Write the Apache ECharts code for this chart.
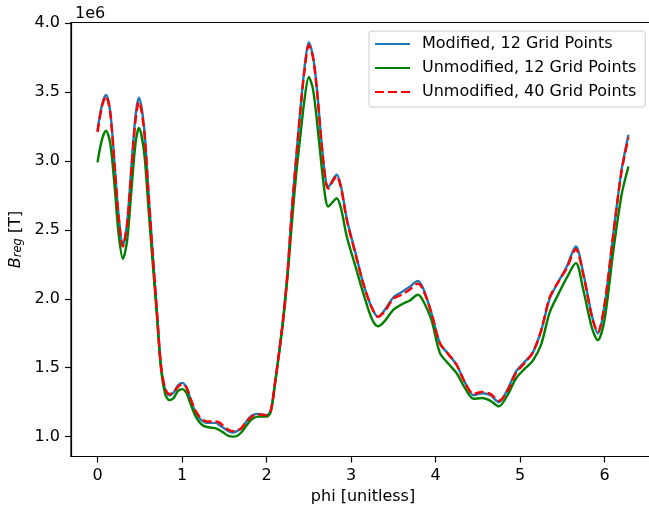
<!DOCTYPE html>
<html>
<head>
<meta charset="utf-8">
<script src="https://cdn.jsdelivr.net/npm/echarts@6/dist/echarts.min.js"></script>
<style>
  html, body { margin: 0; padding: 0; background: #fff; }
  #chart { width: 649px; height: 509px; }
</style>
</head>
<body>
<div id="chart"></div>
<script>
// phi sample points and B_reg values (in units of 1e6 T)
const phi = [
  0.00, 0.05, 0.10, 0.15, 0.20, 0.25, 0.30, 0.35, 0.40, 0.45, 0.49, 0.55,
  0.60, 0.65, 0.70, 0.75, 0.80, 0.85, 0.90, 0.95, 1.00, 1.05, 1.10, 1.15,
  1.20, 1.25, 1.30, 1.35, 1.40, 1.45, 1.50, 1.55, 1.60, 1.65, 1.70, 1.75,
  1.80, 1.85, 1.90, 1.95, 2.00, 2.05, 2.10, 2.15, 2.20, 2.25, 2.30, 2.35,
  2.40, 2.45, 2.50, 2.55, 2.60, 2.65, 2.70, 2.73, 2.78, 2.83, 2.88, 2.95,
  3.05, 3.15, 3.25, 3.32, 3.40, 3.50, 3.60, 3.70, 3.79, 3.85, 3.95, 4.05,
  4.15, 4.25, 4.35, 4.45, 4.55, 4.65, 4.75, 4.85, 4.95, 5.05, 5.15, 5.25,
  5.35, 5.45, 5.55, 5.66, 5.75, 5.85, 5.92, 6.00, 6.10, 6.20, 6.283
];
const modified12 = [
  3.22, 3.40, 3.48, 3.36, 2.99, 2.60, 2.39, 2.55, 2.95, 3.33, 3.46, 3.25,
  2.80, 2.35, 1.93, 1.52, 1.34, 1.30, 1.32, 1.37, 1.39, 1.36, 1.27, 1.19,
  1.14, 1.11, 1.10, 1.10, 1.10, 1.08, 1.06, 1.04, 1.03, 1.04, 1.06, 1.10,
  1.14, 1.16, 1.165, 1.16, 1.155, 1.19, 1.39, 1.62, 1.88, 2.21, 2.65, 3.02,
  3.37, 3.68, 3.86, 3.76, 3.50, 3.14, 2.86, 2.81, 2.86, 2.90, 2.82, 2.58,
  2.34, 2.10, 1.93, 1.87, 1.92, 2.01, 2.05, 2.09, 2.13, 2.08, 1.90, 1.68,
  1.60, 1.52, 1.39, 1.30, 1.315, 1.30, 1.25, 1.34, 1.47, 1.54, 1.61, 1.77,
  2.00, 2.12, 2.23, 2.38, 2.18, 1.88, 1.75, 1.95, 2.45, 2.93, 3.19
];
const unmodified12 = [
  2.99, 3.15, 3.22, 3.13, 2.83, 2.47, 2.29, 2.42, 2.78, 3.13, 3.24, 3.07,
  2.68, 2.28, 1.90, 1.50, 1.31, 1.265, 1.28, 1.33, 1.345, 1.32, 1.24, 1.16,
  1.11, 1.08, 1.07, 1.065, 1.06, 1.045, 1.025, 1.005, 1.00, 1.005, 1.03, 1.07,
  1.11, 1.135, 1.145, 1.145, 1.145, 1.18, 1.38, 1.61, 1.86, 2.17, 2.55, 2.90,
  3.18, 3.45, 3.61, 3.52, 3.27, 2.97, 2.72, 2.67, 2.70, 2.73, 2.66, 2.45,
  2.24, 2.03, 1.85, 1.80, 1.84, 1.92, 1.96, 1.99, 2.03, 1.99, 1.85, 1.61,
  1.53, 1.46, 1.35, 1.275, 1.28, 1.26, 1.22, 1.30, 1.42, 1.49, 1.55, 1.67,
  1.90, 2.03, 2.15, 2.26, 2.06, 1.79, 1.70, 1.85, 2.33, 2.75, 2.96
];
const unmodified40 = [
  3.21, 3.39, 3.47, 3.35, 2.98, 2.59, 2.38, 2.54, 2.93, 3.30, 3.43, 3.23,
  2.79, 2.35, 1.93, 1.52, 1.35, 1.31, 1.32, 1.36, 1.38, 1.36, 1.28, 1.20,
  1.15, 1.12, 1.11, 1.11, 1.11, 1.10, 1.07, 1.05, 1.04, 1.045, 1.06, 1.10,
  1.13, 1.155, 1.16, 1.16, 1.155, 1.19, 1.39, 1.62, 1.87, 2.20, 2.64, 3.01,
  3.36, 3.66, 3.84, 3.75, 3.49, 3.13, 2.85, 2.80, 2.85, 2.89, 2.81, 2.57,
  2.33, 2.10, 1.93, 1.87, 1.91, 2.00, 2.03, 2.07, 2.11, 2.07, 1.90, 1.68,
  1.60, 1.52, 1.39, 1.31, 1.325, 1.31, 1.26, 1.33, 1.46, 1.53, 1.61, 1.77,
  2.01, 2.12, 2.22, 2.36, 2.17, 1.87, 1.76, 1.96, 2.45, 2.92, 3.17
];
const xTicks = [0, 1, 2, 3, 4, 5, 6];
const yTicks = [1.0e6, 1.5e6, 2.0e6, 2.5e6, 3.0e6, 3.5e6, 4.0e6];

const font = 'DejaVu Sans';
const fs = 16;
const toPairs = vals => phi.map((p, i) => [p, vals[i] * 1e6]);

const chart = echarts.init(document.getElementById('chart'));
chart.setOption({
  animation: false,
  textStyle: { fontFamily: font },
  title: {
    text: '1e6',
    left: 70,
    top: 1,
    textStyle: { fontFamily: font, fontSize: fs, fontWeight: 'normal', color: '#000' }
  },
  grid: {
    left: 71,
    top: 22.5,
    width: 584,
    height: 434,
    outerBoundsMode: 'none',
    containLabel: false,
    show: true,
    borderColor: '#000',
    borderWidth: 1.2
  },
  legend: {
    orient: 'vertical',
    left: 369,
    top: 31,
    padding: [5, 9, 7, 5],
    itemWidth: 35,
    itemHeight: 16,
    itemGap: 8,
    itemStyle: { opacity: 0 },
    backgroundColor: 'rgba(255,255,255,0.8)',
    borderColor: '#cccccc',
    borderWidth: 1,
    borderRadius: 3,
    textStyle: { fontFamily: font, fontSize: fs, color: '#000', padding: [0, 0, 0, 7] },
    data: ['Modified, 12 Grid Points', 'Unmodified, 12 Grid Points', 'Unmodified, 40 Grid Points']
  },
  xAxis: {
    type: 'value',
    min: -0.314,
    max: 6.597,
    name: 'phi [unitless]',
    nameLocation: 'middle',
    nameGap: 30,
    nameTextStyle: { fontFamily: font, fontSize: fs, color: '#000' },
    axisLine: { onZero: false, lineStyle: { color: '#000', width: 1.2 } },
    axisTick: { customValues: xTicks, length: 6, lineStyle: { color: '#000', width: 1.2 } },
    axisLabel: {
      customValues: xTicks,
      margin: 11,
      fontFamily: font,
      fontSize: fs,
      color: '#000'
    },
    splitLine: { show: false }
  },
  yAxis: {
    type: 'value',
    min: 0.856e6,
    max: 4.005e6,
    name: '{b|B}{s|reg}{t| [T]}',
    nameLocation: 'middle',
    nameRotate: 90,
    nameGap: 46,
    nameTextStyle: {
      color: '#000',
      rich: {
        b: { fontFamily: font, fontSize: fs, fontStyle: 'italic', lineHeight: 16, verticalAlign: 'top', color: '#000' },
        s: { fontFamily: font, fontSize: 11.5, fontStyle: 'italic', lineHeight: 11, verticalAlign: 'bottom', color: '#000' },
        t: { fontFamily: font, fontSize: fs, lineHeight: 16, verticalAlign: 'top', color: '#000' }
      }
    },
    axisLine: { show: true, onZero: false, lineStyle: { color: '#000', width: 1.2 } },
    axisTick: { show: true, customValues: yTicks, length: 6, lineStyle: { color: '#000', width: 1.2 } },
    axisLabel: {
      customValues: yTicks,
      margin: 11,
      fontFamily: font,
      fontSize: fs,
      color: '#000',
      formatter: v => (v / 1e6).toFixed(1)
    },
    splitLine: { show: false }
  },
  series: [
    {
      name: 'Modified, 12 Grid Points',
      type: 'line',
      data: toPairs(modified12),
      symbol: 'none',
      smooth: 0.3,
      color: '#1f77b4',
      lineStyle: { color: '#1f77b4', width: 2.4 }
    },
    {
      name: 'Unmodified, 12 Grid Points',
      type: 'line',
      data: toPairs(unmodified12),
      symbol: 'none',
      smooth: 0.3,
      color: '#008000',
      lineStyle: { color: '#008000', width: 2.4 }
    },
    {
      name: 'Unmodified, 40 Grid Points',
      type: 'line',
      data: toPairs(unmodified40),
      symbol: 'none',
      smooth: 0.3,
      color: '#ff0000',
      lineStyle: { color: '#ff0000', width: 2.4, type: [9, 4] }
    }
  ]
});
</script>
</body>
</html>
